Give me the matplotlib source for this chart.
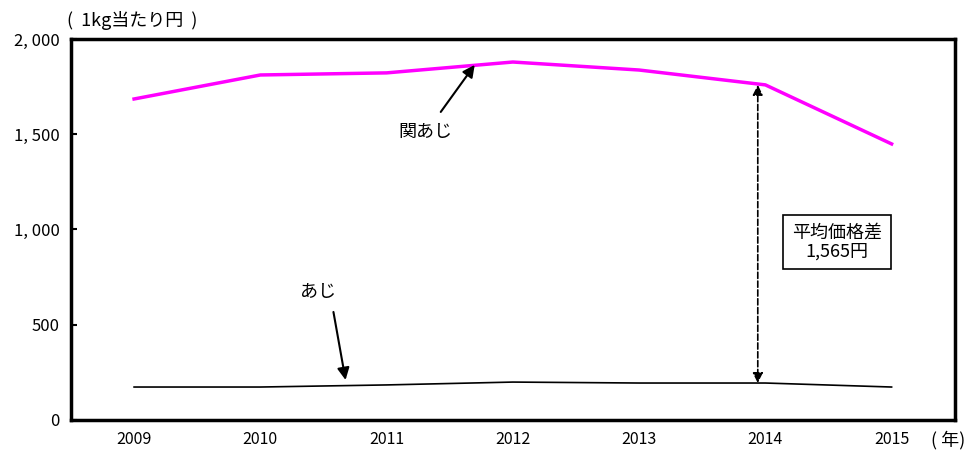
import matplotlib
matplotlib.use("Agg")
import matplotlib.pyplot as plt
import numpy as np

plt.rcParams['font.family'] = ['Noto Sans CJK JP', 'DejaVu Sans']

years = ['2009', '2010', '2011', '2012', '2013', '2014', '2015']
seki_aji = [1685, 1811, 1822, 1879, 1837, 1759, 1449]   # 関あじ
aji = [173, 173, 184, 199, 194, 194, 173]                 # あじ
diff_label = '平均価格差\n1,565円'

fig = plt.figure(figsize=(9.68, 4.5), dpi=100)
ax = fig.add_axes([0.0733, 0.0667, 0.913, 0.8467])

x = np.arange(len(years))
ax.plot(x, seki_aji, color='#ff00ff', lw=2.5)
ax.plot(x, aji, color='black', lw=1.2)

ax.set_xlim(-0.5, len(years) - 0.5)
ax.set_ylim(0, 2000)
ax.set_xticks(x)
ax.set_xticklabels(years, fontsize=11.5)
ax.set_yticks([0, 500, 1000, 1500, 2000])
ax.set_yticklabels(['0', '500', '1, 000', '1, 500', '2, 000'], fontsize=12)
ax.tick_params(axis='x', length=0, pad=8)
ax.tick_params(axis='y', direction='in', length=4, width=1.5, pad=8)
for s in ax.spines.values():
    s.set_linewidth(2.5)

# price gap arrow near 2014
i = years.index('2014')
ax.annotate('', xy=(i - 0.06, aji[i]), xytext=(i - 0.06, seki_aji[i]),
            arrowprops=dict(arrowstyle='<|-|>', linestyle='--', lw=1.2,
                            color='black', mutation_scale=15,
                            shrinkA=0, shrinkB=0))
ax.text(5.57, 934, diff_label, ha='center', va='center', fontsize=13,
        linespacing=1.05,
        bbox=dict(boxstyle='square,pad=0.5', fc='white', ec='black', lw=1.2))

# series labels
ax.text(2.31, 1512, '関あじ', ha='center', va='center', fontsize=13)
ax.annotate('', xy=(2.698, 1864), xytext=(2.429, 1617),
            arrowprops=dict(arrowstyle='-|>', color='black', lw=1.5,
                            mutation_scale=18, shrinkA=0, shrinkB=0))
ax.text(1.46, 672, 'あじ', ha='center', va='center', fontsize=13)
ax.annotate('', xy=(1.675, 210), xytext=(1.579, 567),
            arrowprops=dict(arrowstyle='-|>', color='black', lw=1.5,
                            mutation_scale=18, shrinkA=0, shrinkB=0))

fig.text(0.069, 0.955, '(  1kg当たり円  )', fontsize=13, va='center')
fig.text(0.997, 0.022, '( 年)', fontsize=13, ha='right', va='center')

fig.savefig('out.png', dpi=100)
